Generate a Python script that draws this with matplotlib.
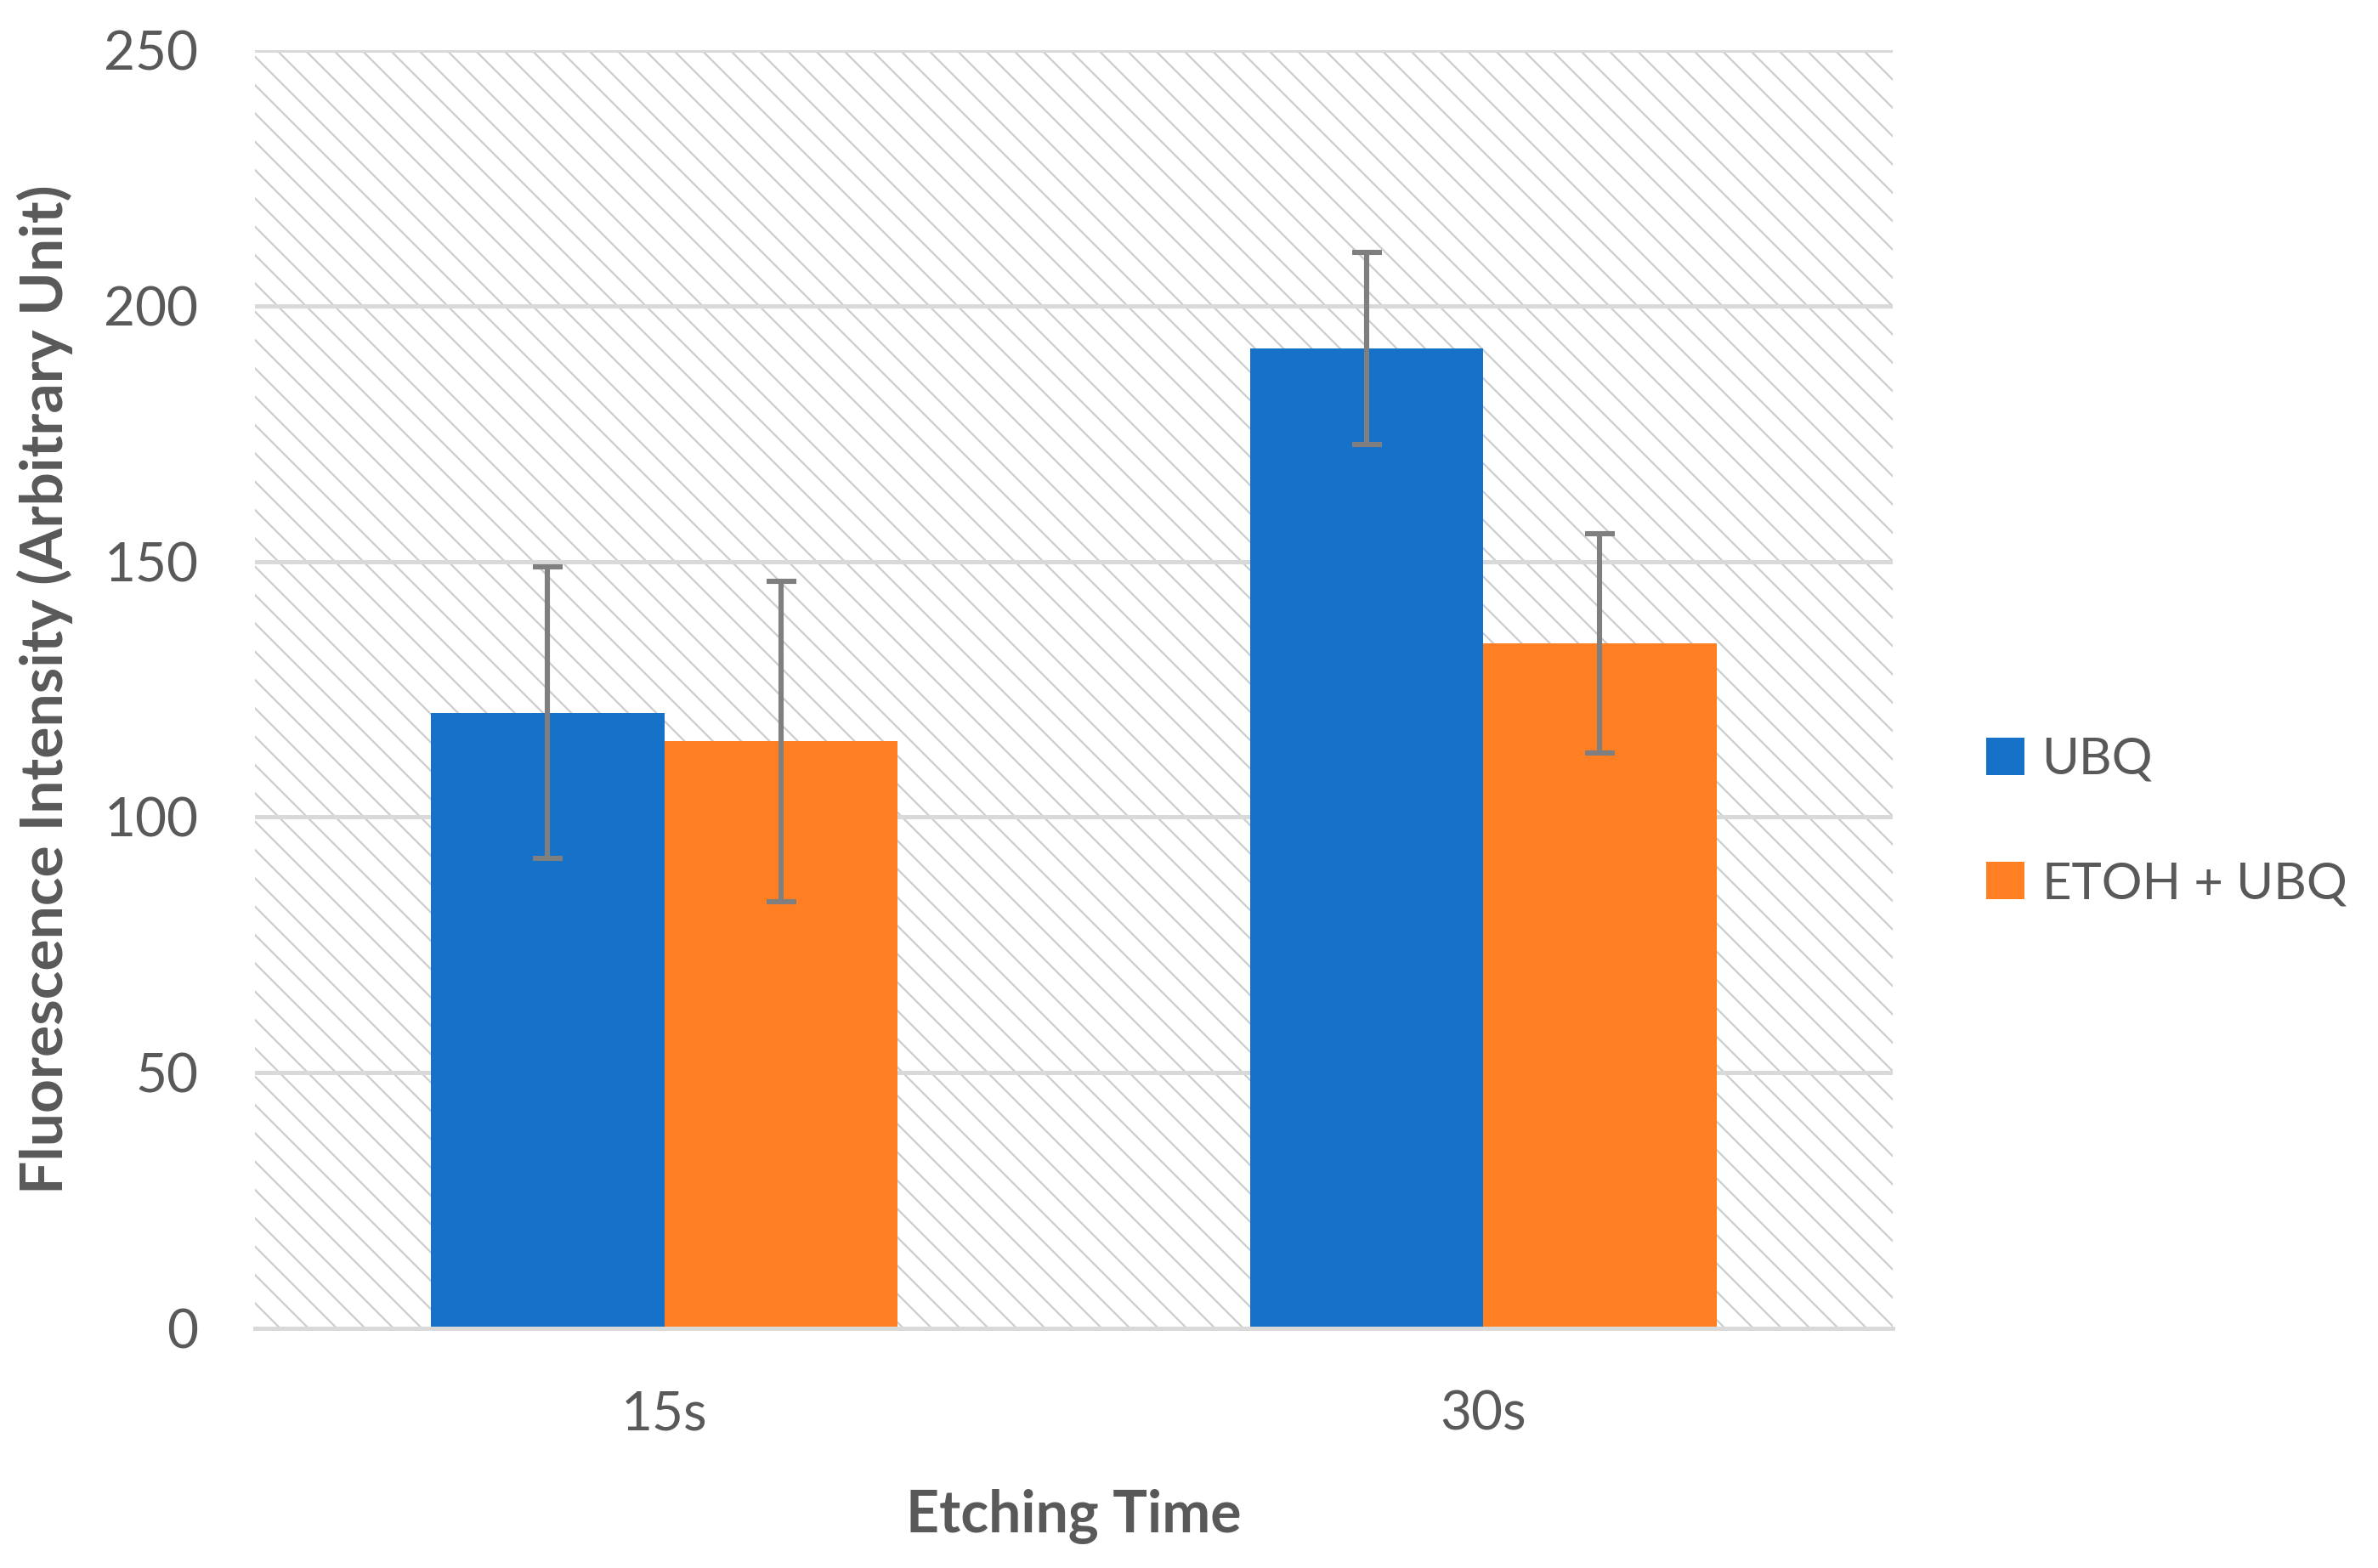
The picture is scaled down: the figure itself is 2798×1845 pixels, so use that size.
import matplotlib
matplotlib.use('Agg')
import matplotlib.pyplot as plt
from matplotlib.patches import Rectangle
import numpy as np

categories = ['15s', '30s']
series_names = ['UBQ', 'ETOH + UBQ']
ubq = [120.4, 191.6]
ubq_err = [28.5, 18.8]
etoh = [114.8, 134.0]
etoh_err = [31.3, 21.5]
yticks = [0, 50, 100, 150, 200, 250]

colors = ['#1671C9', '#FF7F22']
text_color = '#595959'
grid_color = '#d9d9d9'

plt.rcParams['font.family'] = ['Lato', 'DejaVu Sans']
plt.rcParams['hatch.linewidth'] = 0.8

fig = plt.figure(figsize=(13.99, 9.225), dpi=200)
ax = fig.add_axes([0.1072, 0.1528, 0.6887, 0.8152])

# hatched plot-area background
bg = Rectangle((0, 0), 1, 1, transform=ax.transAxes, facecolor='white',
               edgecolor='#cdcdcd', linewidth=0, hatch='\\\\', zorder=0)
ax.add_patch(bg)

x = np.arange(len(categories))
w = 0.285
ekw = dict(ecolor='#7f7f7f', elinewidth=2.2, capsize=6.3, capthick=2.2)
ax.bar(x - w / 2, ubq, w, yerr=ubq_err, color=colors[0], label=series_names[0],
       error_kw=ekw, zorder=2)
ax.bar(x + w / 2, etoh, w, yerr=etoh_err, color=colors[1], label=series_names[1],
       error_kw=ekw, zorder=2)

ax.set_xlim(-0.5, 1.5)
ax.set_ylim(0, 250)
ax.set_yticks(yticks)
ax.set_xticks(x)
ax.set_xticklabels(categories)

ax.yaxis.grid(True, color=grid_color, linewidth=1.8, zorder=1)
ax.set_axisbelow(True)
for s in ['top', 'left', 'right']:
    ax.spines[s].set_visible(False)
ax.spines['bottom'].set_color(grid_color)
ax.spines['bottom'].set_linewidth(1.8)
ax.spines['bottom'].set_zorder(3)

ax.tick_params(axis='both', length=0, labelsize=23, labelcolor=text_color)
ax.tick_params(axis='y', pad=24)
ax.tick_params(axis='x', pad=26)

ax.set_xlabel('Etching Time', fontsize=24.5, fontweight='bold', color=text_color,
              labelpad=21)
ax.set_ylabel('Fluorescence Intensity (Arbitrary Unit)', fontsize=25,
              fontweight='bold', color=text_color, labelpad=13)

leg = ax.legend(loc='center left', bbox_to_anchor=(0.816, 0.476),
                bbox_transform=fig.transFigure, frameon=False, fontsize=21.5,
                handlelength=0.75, handleheight=0.75, handletextpad=0.35,
                labelspacing=1.55)
for t in leg.get_texts():
    t.set_color(text_color)

fig.savefig('out.png', dpi=200)
